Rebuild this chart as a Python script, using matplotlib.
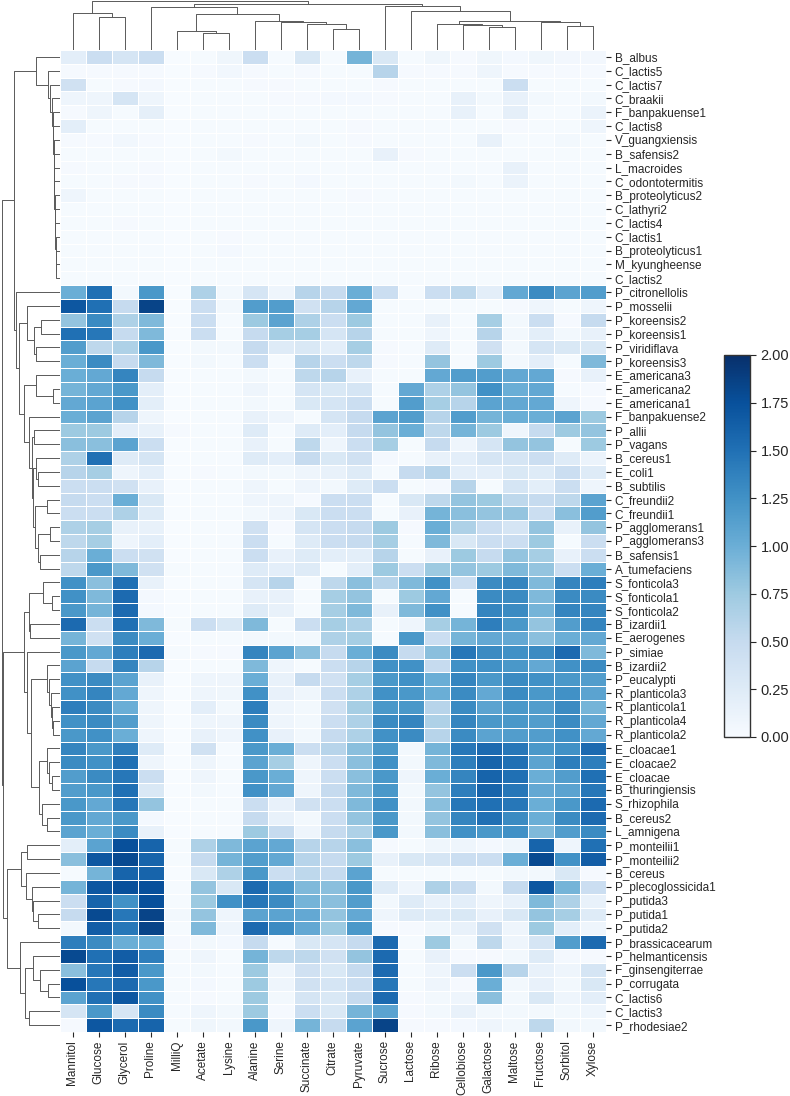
import numpy as np
import pandas as pd
import matplotlib
from matplotlib import pyplot as plt
from matplotlib.collections import LineCollection
import seaborn as sns

matplotlib.use('agg')

SUBSTRATES = ["Mannitol", "Glucose", "Glycerol", "Proline", "MilliQ", "Acetate", "Lysine",
              "Alanine", "Serine", "Succinate", "Citrate", "Pyruvate", "Sucrose", "Lactose",
              "Ribose", "Cellobiose", "Galactose", "Maltose", "Fructose", "Sorbitol", "Xylose"]

STRAINS = ["B_albus", "C_lactis5", "C_lactis7", "C_braakii", "F_banpakuense1", "C_lactis8",
           "V_guangxiensis", "B_safensis2", "L_macroides", "C_odontotermitis", "B_proteolyticus2",
           "C_lathyri2", "C_lactis4", "C_lactis1", "B_proteolyticus1", "M_kyungheense", "C_lactis2",
           "P_citronellolis", "P_mosselii", "P_koreensis2", "P_koreensis1", "P_viridiflava",
           "P_koreensis3", "E_americana3", "E_americana2", "E_americana1", "F_banpakuense2",
           "P_allii", "P_vagans", "B_cereus1", "E_coli1", "B_subtilis", "C_freundii2", "C_freundii1",
           "P_agglomerans1", "P_agglomerans3", "B_safensis1", "A_tumefaciens", "S_fonticola3",
           "S_fonticola1", "S_fonticola2", "B_izardii1", "E_aerogenes", "P_simiae", "B_izardii2",
           "P_eucalypti", "R_planticola3", "R_planticola1", "R_planticola4", "R_planticola2",
           "E_cloacae1", "E_cloacae2", "E_cloacae", "B_thuringiensis", "S_rhizophila", "B_cereus2",
           "L_amnigena", "P_monteilii1", "P_monteilii2", "B_cereus", "P_plecoglossicida1",
           "P_putida3", "P_putida1", "P_putida2", "P_brassicacearum", "P_helmanticensis",
           "F_ginsengiterrae", "P_corrugata", "C_lactis6", "C_lactis3", "P_rhodesiae2"]

# growth values (OD ratio), one row per strain, in the order above
growth_weak = [
    [0.20, 0.45, 0.35, 0.45, 0, 0.02, 0.08, 0.45, 0.02, 0.30, 0.02, 0.95, 0.30, 0.02, 0.08, 0.03, 0.08, 0.04, 0.08, 0.06, 0.06],
    [0.03, 0.03, 0.03, 0.03, 0, 0.03, 0.07, 0.03, 0.02, 0.03, 0.02, 0.02, 0.60, 0.03, 0.03, 0.03, 0.10, 0.03, 0.03, 0.03, 0.03],
    [0.40, 0.02, 0.03, 0.04, 0, 0.02, 0.02, 0.03, 0.03, 0.02, 0.02, 0.02, 0.03, 0.02, 0.02, 0.02, 0.02, 0.45, 0.02, 0.02, 0.02],
    [0.10, 0.10, 0.35, 0.10, 0, 0.02, 0.02, 0.02, 0.03, 0.03, 0.04, 0.04, 0.03, 0.02, 0.02, 0.15, 0.05, 0.15, 0.05, 0.02, 0.05],
    [0.03, 0.10, 0.02, 0.18, 0, 0.02, 0.02, 0.02, 0.02, 0.02, 0.02, 0.02, 0.02, 0.02, 0.02, 0.15, 0.02, 0.18, 0.02, 0.02, 0.12],
    [0.20, 0.02, 0.02, 0.02, 0, 0.02, 0.02, 0.02, 0.02, 0.02, 0.02, 0.03, 0.02, 0.02, 0.02, 0.02, 0.02, 0.03, 0.02, 0.02, 0.10],
    [0.03, 0.03, 0.07, 0.03, 0, 0.02, 0.02, 0.03, 0.02, 0.05, 0.02, 0.03, 0.02, 0.02, 0.02, 0.02, 0.15, 0.02, 0.02, 0.05, 0.02],
    [0.02, 0.02, 0.02, 0.02, 0, 0.02, 0.05, 0.02, 0.02, 0.02, 0.02, 0.02, 0.15, 0.03, 0.02, 0.02, 0.02, 0.02, 0.02, 0.02, 0.02],
    [0.03, 0.02, 0.02, 0.03, 0, 0.02, 0.02, 0.02, 0.02, 0.02, 0.02, 0.02, 0.02, 0.02, 0.02, 0.02, 0.02, 0.15, 0.02, 0.02, 0.02],
    [0.02, 0.02, 0.03, 0.03, 0, 0.02, 0.02, 0.03, 0.02, 0.04, 0.02, 0.02, 0.02, 0.02, 0.02, 0.05, 0.02, 0.12, 0.02, 0.02, 0.02],
    [0.10, 0.02, 0.02, 0.02, 0, 0.02, 0.02, 0.02, 0.02, 0.02, 0.02, 0.03, 0.02, 0.02, 0.02, 0.02, 0.02, 0.02, 0.02, 0.02, 0.02],
    [0.02, 0.02, 0.02, 0.02, 0, 0.02, 0.02, 0.02, 0.02, 0.02, 0.02, 0.02, 0.02, 0.02, 0.02, 0.02, 0.02, 0.02, 0.02, 0.02, 0.02],
    [0.02, 0.02, 0.03, 0.02, 0, 0.02, 0.02, 0.02, 0.02, 0.02, 0.02, 0.02, 0.02, 0.02, 0.02, 0.02, 0.02, 0.02, 0.02, 0.02, 0.02],
    [0.02, 0.02, 0.02, 0.02, 0, 0.02, 0.03, 0.02, 0.02, 0.02, 0.02, 0.02, 0.02, 0.02, 0.02, 0.02, 0.02, 0.02, 0.02, 0.02, 0.02],
    [0.02, 0.02, 0.02, 0.02, 0, 0.02, 0.04, 0.02, 0.02, 0.02, 0.02, 0.02, 0.02, 0.02, 0.02, 0.02, 0.02, 0.02, 0.02, 0.02, 0.02],
    [0.02, 0.02, 0.02, 0.02, 0, 0.02, 0.02, 0.02, 0.02, 0.02, 0.02, 0.02, 0.02, 0.02, 0.02, 0.02, 0.02, 0.02, 0.02, 0.02, 0.02],
    [0.02, 0.02, 0.02, 0.02, 0, 0.02, 0.02, 0.02, 0.02, 0.02, 0.02, 0.02, 0.02, 0.02, 0.02, 0.02, 0.02, 0.02, 0.02, 0.02, 0.02],
]

growth_group2 = [
    [1.00, 1.50, 0.05, 1.20, 0, 0.65, 0.05, 0.35, 0.10, 0.60, 0.50, 1.00, 0.45, 0.02, 0.45, 0.55, 0.20, 1.05, 1.30, 1.10, 1.15],
    [1.70, 1.50, 0.50, 1.85, 0, 0.45, 0.05, 1.15, 1.15, 0.40, 0.60, 1.05, 0.02, 0.02, 0.02, 0.02, 0.02, 0.03, 0.10, 0.02, 0.10],
    [0.80, 1.30, 0.65, 0.90, 0, 0.45, 0.02, 0.75, 1.10, 0.65, 0.45, 0.75, 0.02, 0.02, 0.15, 0.02, 0.70, 0.05, 0.45, 0.03, 0.50],
    [1.50, 1.45, 0.50, 0.90, 0, 0.45, 0.02, 0.50, 0.70, 0.70, 0.35, 0.60, 0.02, 0.02, 0.10, 0.02, 0.60, 0.05, 0.20, 0.05, 0.15],
    [1.15, 0.55, 0.65, 1.20, 0, 0.05, 0.05, 0.50, 0.25, 0.30, 0.20, 0.70, 0.03, 0.02, 0.25, 0.02, 0.40, 0.05, 0.35, 0.30, 0.30],
    [1.00, 1.30, 0.50, 0.90, 0, 0.05, 0.02, 0.45, 0.02, 0.60, 0.45, 0.55, 0.03, 0.02, 0.80, 0.02, 0.75, 0.05, 0.20, 0.02, 0.90],
    [1.00, 1.05, 1.35, 0.50, 0, 0.02, 0.02, 0.05, 0.02, 0.55, 0.60, 0.15, 0.02, 0.02, 1.05, 1.15, 1.15, 1.05, 1.05, 0.03, 0.15],
    [0.95, 1.05, 1.20, 0.20, 0, 0.02, 0.02, 0.10, 0.02, 0.35, 0.30, 0.35, 0.02, 1.05, 0.65, 0.80, 1.25, 1.00, 1.05, 0.02, 0.03],
    [1.05, 1.10, 1.25, 0.20, 0, 0.02, 0.02, 0.05, 0.02, 0.30, 0.35, 0.45, 0.02, 1.15, 0.70, 0.60, 1.10, 1.05, 1.05, 0.10, 0.03],
    [1.00, 1.10, 0.60, 0.10, 0, 0.02, 0.02, 0.15, 0.10, 0.02, 0.35, 0.50, 1.10, 1.15, 0.60, 1.15, 0.95, 1.00, 1.00, 1.10, 0.75],
    [0.75, 0.75, 0.20, 0.15, 0.03, 0.02, 0.02, 0.25, 0.02, 0.25, 0.20, 0.50, 0.80, 1.00, 0.55, 0.95, 0.75, 0.10, 0.50, 0.75, 0.80],
    [0.85, 0.85, 1.10, 0.45, 0, 0.02, 0.02, 0.15, 0.02, 0.55, 0.10, 0.45, 0.70, 0.02, 0.50, 0.10, 0.35, 0.80, 0.80, 0.02, 0.75],
    [0.65, 1.50, 0.25, 0.35, 0, 0.02, 0.02, 0.25, 0.20, 0.50, 0.30, 0.40, 0.04, 0.02, 0.15, 0.20, 0.35, 0.35, 0.45, 0.25, 0.12],
    [0.60, 0.70, 0.10, 0.20, 0, 0.03, 0.02, 0.05, 0.05, 0.10, 0.15, 0.25, 0.02, 0.50, 0.60, 0.20, 0.20, 0.30, 0.25, 0.45, 0.25],
    [0.45, 0.45, 0.40, 0.15, 0, 0.02, 0.02, 0.10, 0.02, 0.10, 0.05, 0.25, 0.45, 0.02, 0.04, 0.60, 0.02, 0.35, 0.20, 0.45, 0.10],
    [0.50, 0.45, 1.00, 0.30, 0, 0.02, 0.02, 0.10, 0.10, 0.03, 0.45, 0.45, 0.02, 0.30, 0.55, 0.80, 0.75, 0.55, 0.50, 0.55, 1.10],
    [0.45, 0.45, 0.65, 0.25, 0, 0.02, 0.02, 0.05, 0.10, 0.30, 0.45, 0.45, 0.02, 0.15, 0.95, 0.85, 0.80, 0.80, 0.45, 0.85, 1.15],
    [0.65, 0.70, 0.15, 0.15, 0, 0.02, 0.02, 0.40, 0.03, 0.35, 0.45, 0.50, 0.75, 0.03, 1.00, 0.65, 0.45, 0.35, 0.80, 0.15, 0.80],
    [0.55, 0.70, 0.10, 0.20, 0, 0.02, 0.02, 0.45, 0.02, 0.25, 0.45, 0.50, 0.70, 0.02, 0.90, 0.30, 0.45, 0.45, 0.75, 0.02, 0.45],
    [0.60, 1.00, 0.45, 0.40, 0, 0.02, 0.02, 0.45, 0.15, 0.25, 0.20, 0.20, 0.60, 0.02, 0.15, 0.75, 0.50, 0.80, 0.70, 0.15, 0.45],
    [0.55, 1.20, 0.90, 0.40, 0.02, 0.02, 0.02, 0.25, 0.20, 0.25, 0.02, 0.20, 0.75, 0.45, 0.75, 0.80, 0.75, 0.90, 0.80, 0.45, 1.00],
]

growth_group3 = [
    [1.25, 0.85, 1.50, 0.15, 0, 0.02, 0.02, 0.35, 0.60, 0.02, 0.55, 0.85, 0.60, 0.90, 1.25, 0.45, 1.30, 1.35, 0.90, 1.35, 1.40],
    [1.25, 0.90, 1.55, 0.04, 0, 0.02, 0.02, 0.15, 0.15, 0.02, 0.70, 0.80, 0.02, 0.75, 1.05, 0.02, 1.30, 1.30, 0.90, 1.30, 1.30],
    [1.20, 0.95, 1.55, 0.04, 0, 0.02, 0.02, 0.25, 0.15, 0.02, 0.70, 0.90, 0.15, 0.90, 1.25, 0.02, 1.35, 1.30, 0.95, 1.35, 1.35],
    [1.55, 0.45, 1.50, 0.90, 0.02, 0.45, 0.30, 0.90, 0.02, 0.45, 0.70, 0.65, 0.02, 0.10, 0.70, 0.95, 1.40, 1.20, 0.80, 1.15, 1.35],
    [0.95, 0.40, 1.30, 1.00, 0, 0.02, 0.02, 0.05, 0.05, 0.05, 0.65, 0.70, 0.02, 1.20, 0.45, 0.95, 1.05, 1.05, 0.85, 1.00, 1.05],
    [1.20, 1.05, 1.40, 1.55, 0.02, 0.03, 0.03, 1.35, 1.10, 0.85, 0.50, 1.00, 1.30, 0.50, 0.85, 1.45, 1.30, 1.25, 1.30, 1.55, 0.90],
    [1.10, 0.50, 1.35, 0.60, 0, 0.02, 0.02, 0.90, 0.10, 0.02, 0.45, 0.60, 1.25, 1.25, 0.50, 1.25, 1.25, 1.20, 1.05, 1.25, 1.30],
    [1.25, 1.30, 1.10, 0.15, 0, 0.10, 0.10, 1.00, 0.15, 0.50, 0.40, 0.70, 1.20, 1.25, 1.00, 1.35, 1.20, 1.30, 1.25, 1.20, 1.15],
    [1.25, 1.35, 1.05, 0.10, 0, 0.10, 0.08, 1.25, 0.15, 0.08, 0.45, 0.65, 1.25, 1.20, 1.00, 1.30, 1.05, 1.30, 1.20, 1.25, 1.10],
    [1.40, 1.30, 1.00, 0.10, 0, 0.20, 0.05, 1.40, 0.10, 0.05, 0.40, 0.70, 1.20, 1.20, 0.60, 1.30, 1.10, 1.20, 1.15, 1.30, 0.95],
    [1.25, 1.30, 1.15, 0.10, 0, 0.10, 0.10, 1.30, 0.10, 0.05, 0.45, 0.65, 1.30, 1.35, 0.65, 1.35, 1.20, 1.20, 1.15, 1.30, 1.05],
    [1.20, 1.25, 1.00, 0.10, 0, 0.15, 0.10, 1.25, 0.15, 0.05, 0.50, 0.65, 1.25, 1.30, 0.60, 1.30, 1.10, 1.15, 1.15, 1.25, 1.05],
    [1.35, 1.20, 1.40, 0.25, 0, 0.40, 0.02, 1.20, 1.00, 0.45, 0.60, 0.85, 1.20, 0.05, 0.95, 1.45, 1.55, 1.45, 1.20, 1.25, 1.55],
    [1.30, 1.25, 1.50, 0.10, 0, 0.10, 0.02, 1.10, 0.70, 0.10, 0.45, 0.85, 1.25, 0.05, 0.90, 1.40, 1.60, 1.50, 1.10, 1.40, 1.40],
    [1.15, 1.30, 1.45, 0.45, 0, 0.10, 0.02, 1.20, 1.00, 0.10, 0.45, 0.85, 1.20, 0.10, 1.00, 1.35, 1.60, 1.50, 1.00, 1.15, 1.50],
    [1.15, 1.20, 1.50, 0.30, 0, 0.05, 0.02, 1.25, 1.05, 0.10, 0.50, 0.90, 1.20, 0.05, 0.80, 1.40, 1.60, 1.45, 1.05, 1.10, 1.45],
    [1.20, 1.05, 1.45, 0.80, 0, 0.02, 0.02, 0.45, 0.15, 0.40, 0.45, 0.90, 1.25, 0.05, 0.85, 1.45, 1.50, 1.45, 1.00, 1.20, 1.55],
    [1.20, 1.05, 1.20, 0.04, 0, 0.02, 0.02, 0.50, 0.15, 0.05, 0.45, 0.80, 1.20, 0.05, 0.80, 1.35, 1.50, 1.30, 1.00, 1.30, 1.55],
    [1.10, 1.00, 1.30, 0.15, 0, 0.02, 0.02, 0.75, 0.50, 0.10, 0.50, 0.65, 1.20, 0.05, 0.85, 1.25, 1.20, 1.25, 0.90, 1.15, 1.30],
]

growth_group4 = [
    [0.20, 1.10, 1.75, 1.60, 0.02, 0.65, 0.90, 1.10, 1.05, 0.60, 0.60, 0.85, 0.03, 0.02, 0.08, 0.10, 0.04, 0.08, 1.60, 0.10, 1.50],
    [0.85, 1.70, 1.80, 1.60, 0.02, 0.50, 0.95, 1.15, 1.05, 0.60, 0.50, 0.75, 0.15, 0.30, 0.35, 0.45, 0.45, 1.00, 1.80, 1.25, 1.65],
    [0.02, 0.95, 1.60, 1.60, 0, 0.30, 0.65, 1.20, 0.45, 0.55, 0.50, 1.10, 0.02, 0.02, 0.02, 0.02, 0.02, 0.05, 0.05, 0.30, 0.03],
    [0.95, 1.70, 1.75, 1.75, 0.02, 0.80, 0.30, 1.55, 1.25, 0.90, 0.85, 1.20, 0.25, 0.10, 0.65, 0.50, 0.05, 0.50, 1.70, 0.95, 0.45],
    [0.45, 1.60, 1.25, 1.75, 0.02, 0.75, 1.25, 1.45, 1.30, 0.95, 0.85, 1.15, 0.05, 0.25, 0.15, 0.20, 0.10, 0.15, 0.90, 0.65, 0.15],
    [0.50, 1.80, 1.45, 1.85, 0.05, 0.80, 0.10, 1.10, 1.10, 1.05, 0.80, 1.05, 0.10, 0.25, 0.25, 0.30, 0.15, 0.30, 0.80, 0.70, 0.25],
    [0.05, 1.65, 1.45, 1.85, 0.02, 0.90, 0.10, 1.55, 1.30, 1.05, 0.75, 1.20, 0.03, 0.03, 0.08, 0.15, 0.40, 0.10, 0.75, 0.20, 0.10],
    [1.40, 1.30, 1.00, 1.00, 0.03, 0.05, 0.04, 0.50, 0.02, 0.30, 0.35, 0.50, 1.55, 0.02, 0.75, 0.05, 0.55, 0.10, 0.35, 1.15, 1.55],
    [1.80, 1.50, 1.65, 1.40, 0.02, 0.10, 0.02, 0.95, 0.55, 0.55, 0.40, 0.80, 1.55, 0.02, 0.15, 0.03, 0.03, 0.05, 0.25, 0.04, 0.03],
    [0.85, 1.45, 1.65, 1.20, 0.02, 0.05, 0.02, 0.75, 0.10, 0.40, 0.30, 0.50, 1.55, 0.02, 0.10, 0.45, 1.20, 0.60, 0.15, 0.10, 0.35],
    [1.75, 1.45, 1.55, 1.20, 0.02, 0.04, 0.02, 0.75, 0.10, 0.40, 0.35, 0.45, 1.45, 0.02, 0.10, 0.03, 1.00, 0.05, 0.15, 0.05, 0.30],
    [1.10, 1.50, 1.70, 1.25, 0.02, 0.03, 0.02, 0.75, 0.05, 0.35, 0.30, 0.50, 1.55, 0.03, 0.05, 0.10, 0.85, 0.05, 0.30, 0.10, 0.20],
    [0.35, 1.20, 0.35, 1.30, 0.02, 0.10, 0.05, 0.75, 0.03, 0.45, 0.30, 0.95, 1.10, 0.03, 0.05, 0.15, 0.05, 0.05, 0.05, 0.05, 0.10],
    [0.03, 1.70, 1.55, 1.60, 0.02, 0.08, 0.05, 1.20, 0.10, 0.95, 0.50, 1.10, 1.85, 0.03, 0.03, 0.04, 0.10, 0.05, 0.55, 0.05, 0.05],
]

# cluster trees as (height, left, right); leaves are column / row indices
col_tree = (148, (110, 0, (98, 1, 2)),
            (138, (130, 3, (107, (58, 4, (50, 5, 6)), (87, 7, (84, 8, (78, 9, (62, 10, 11)))))),
             (132, 12, (117, 13, (87, (77, 14, (74, 15, (68, 16, 17))), (85, 18, (72, 19, 20)))))))

weak_comb_heights = [23.8, 11.2, 9.5, 8.0, 7.0, 6.5, 6.0, 5.7, 5.4, 5.1, 4.8, 4.5, 4.2, 3.9, 3.6, 3.2]
ent_comb_heights = [12.5, 10.5, 8.5, 7.5, 6.5]

def comb(first, heights):
    node = first + len(heights)
    for i in range(len(heights) - 1, -1, -1):
        node = (heights[i], first + i, node)
    return node

pseudo_a = (32.8, 18, (25.2, (18.5, 19, 20), (23.8, 21, 22)))
mixed_a = (35.5, (23.8, 23, (6.2, 24, 25)),
           (30.2, 26, (27.8, (25.5, 27, 28),
                       (26.5, (23.8, 29, (21.8, 30, 31)),
                        (24.5, (12.8, 32, 33), (21.8, (9.5, 34, 35), (19.5, 36, 37)))))))
upper = (45.5, comb(0, weak_comb_heights), (43.5, 17, (40.8, pseudo_a, mixed_a)))

enteric = (35.5, (30.2, (16.8, 38, (7.8, 39, 40)), (29.5, 41, 42)),
           (32.8, 43, (28.8, comb(44, ent_comb_heights),
                       (20.2, (12.8, 50, (10.5, 51, (7.5, 52, 53))), (17.8, 54, (12.8, 55, 56))))))
pseudo_b = (52.2, (38.8, (32.8, 57, 58), (33.5, 59, (27.8, 60, (26.2, 61, (21.2, 62, 63))))),
            (39.5, 64, (34.5, (26.2, 65, (19.5, 66, (11.2, 67, 68))), (30.2, 69, 70))))
row_tree = (57.8, upper, (56.8, enteric, pseudo_b))


def tree_segments(node, segs):
    if isinstance(node, int):
        return node + 0.5, 0.0
    h, a, b = node
    pa, ha = tree_segments(a, segs)
    pb, hb = tree_segments(b, segs)
    segs.append([(pa, ha), (pa, h), (pb, h), (pb, hb)])
    return (pa + pb) / 2, h


sns.set_style("ticks")
plt.rcParams['font.family'] = ['Liberation Sans', 'DejaVu Sans']

data = pd.DataFrame(np.array(growth_weak + growth_group2 + growth_group3 + growth_group4),
                    index=STRAINS, columns=SUBSTRATES)

W, H = 790, 1096
fig = plt.figure(figsize=(W / 100, H / 100), dpi=100)
hm_left, hm_top, hm_w, hm_h = 59.5, 50, 546, 982

ax = fig.add_axes([hm_left / W, 1 - (hm_top + hm_h) / H, hm_w / W, hm_h / H])
cax = fig.add_axes([724 / W, 1 - 737 / H, 26 / W, 382 / H])
sns.heatmap(data, ax=ax, cbar_ax=cax, cmap="Blues", vmin=0, vmax=2,
            linewidths=0.5, linecolor="white", xticklabels=True, yticklabels=True,
            cbar_kws={"ticks": np.arange(0, 2.01, 0.25), "format": "%.2f"})
ax.yaxis.tick_right()
ax.set_xlabel("")
ax.set_ylabel("")
ax.tick_params(axis="y", labelsize=8.5, rotation=0, length=3.5, width=0.8, pad=3)
ax.tick_params(axis="x", labelsize=8.5, rotation=90, length=3.5, width=0.8, pad=2.5)
cax.tick_params(labelsize=10.5, length=4, width=0.8)
cbar = ax.collections[0].colorbar
cbar.outline.set_visible(True)
cbar.outline.set_linewidth(1)
cbar.outline.set_edgecolor("0.2")

# row dendrogram
rax = fig.add_axes([0, 1 - (hm_top + hm_h) / H, hm_left / W, hm_h / H])
segs = []
tree_segments(row_tree, segs)
segs = [[(y, x) for x, y in s] for s in segs]
rax.add_collection(LineCollection(segs, colors="0.35", linewidths=0.7))
rax.set_xlim(hm_left, 0)
rax.set_ylim(len(STRAINS), 0)
rax.axis("off")

# column dendrogram
tax = fig.add_axes([hm_left / W, 1 - hm_top / H, hm_w / W, hm_top / H])
segs = []
tree_segments(col_tree, segs)
tax.add_collection(LineCollection(segs, colors="0.35", linewidths=0.7))
tax.set_xlim(0, len(SUBSTRATES))
tax.set_ylim(0, 150)
tax.axis("off")

fig.savefig("out.png", dpi=100)
plt.close(fig)
